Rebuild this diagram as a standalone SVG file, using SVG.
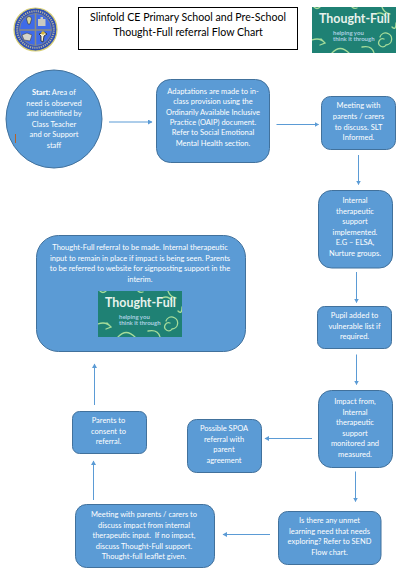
<svg xmlns="http://www.w3.org/2000/svg" xmlns:xlink="http://www.w3.org/1999/xlink" width="403" height="576" viewBox="0 0 403 576">
<style>
.n{fill:#5b9bd5;stroke:#41719c;stroke-width:1}
.t{font-family:"Lato","Open Sans",sans-serif;font-size:7.5px;fill:#fff;text-anchor:middle}
.c{stroke:#5b9bd5;stroke-width:1;fill:none;marker-end:url(#a)}
.h{font-family:"Lato","Open Sans",sans-serif;font-size:10.6px;fill:#000;text-anchor:middle}
.sw{fill:none;stroke:#a6dc9a;stroke-width:1.3;stroke-linecap:round}
.b{font-family:"Lato","Open Sans",sans-serif;font-weight:700;font-size:6px;fill:#a9cfe0}
</style>
<defs>
<marker id="a" markerWidth="5" markerHeight="5" refX="4" refY="2.5" orient="auto" markerUnits="userSpaceOnUse"><path d="M0 0L4.5 2.5L0 5z" fill="#5b9bd5"/></marker>
<symbol id="tf" viewBox="0 0 84 46" overflow="hidden">
<rect width="84" height="46" fill="#1f8174"/>
<path class="sw" d="M0 33Q8 30 13 36M9 32L13 36L8 38M20 46Q28 37 37 46M50 40Q60 38 62 46M68 30a6 6 0 1 1 6 8a4 4 0 1 1 -2 -6M70 0Q72 6 78 7M64 7Q70 4 74 10M2 0Q5 3 8 0M40 0Q42 2 45 1M80 20Q84 24 84 16"/>
<text x="7" y="16" font-family="Lato,'Open Sans',sans-serif" font-weight="700" font-size="12.4" fill="#e8f2ec">Thought-Full</text>
<text class="b" x="21" y="27.500">helping you</text>
<text class="b" x="21" y="33.500">think it through</text>
</symbol>
</defs>
<rect width="403" height="576" fill="#fff"/>
<g id="logo">
<circle cx="35.500" cy="29.500" r="21.500" fill="#2f4fb4" stroke="#d6cd72" stroke-width="1.200"/>
<circle cx="35.500" cy="29.500" r="18.300" fill="none" stroke="#aeb0a0" stroke-width="2" stroke-dasharray="1.200 1"/>
<circle cx="35.500" cy="29.500" r="16" fill="#3f6be8" stroke="#8a8a80" stroke-width=".8"/>
<path d="M35.500 13.500V45.500M19.500 30H51.500" stroke="#8c8c80" stroke-width="1.600"/>
<path d="M38 26V19h2.500v-2h2.500v2h2.500v7z" fill="#c9c9c0"/>
<path d="M31.500 19a2.500 2.500 0 1 0 -5 0l1.500 5h2z" fill="#d9d6a0" stroke="#333" stroke-width=".6"/>
<path d="M22 35l5-2 5 2-2 6-6-1z" fill="#d5d5cc" stroke="#444" stroke-width=".6"/>
<path d="M39 34l5-2 3 2-3 2-1 6-2-1v-5z" fill="#f0efe0" stroke="#222" stroke-width=".8"/>
<circle cx="43" cy="33" r="1.800" fill="#d8b838"/>
</g>
<g id="title">
<rect x="78.500" y="7.500" width="219" height="42" fill="#fff" stroke="#000" stroke-width="1"/>
<text class="h" x="188" y="21">Slinfold CE Primary School and Pre-School</text>
<text class="h" x="188" y="36">Thought-Full referral Flow Chart</text>
</g>
<g id="thought-full-banner"><use xlink:href="#tf" href="#tf" x="312" y="7" width="84" height="46"/></g>
<g id="connectors">
<path class="c" d="M109 122H152"/>
<path class="c" d="M276.500 124.500H318.500"/>
<path class="c" d="M358.500 155V184.500"/>
<path class="c" d="M356.500 272V302.500"/>
<path class="c" d="M356.500 354.500V384.500"/>
<path class="c" d="M312 438.500H265"/>
<path class="c" d="M355.500 471.500V501.500"/>
<path class="c" d="M270 534.500H223"/>
<path class="c" d="M93.500 500V461"/>
<path class="c" d="M94.500 405V364"/>
</g>
<g id="start">
<ellipse class="n" cx="54" cy="119" rx="48" ry="49"/>
<path d="M15.500 134V143" stroke="#b5622a" stroke-width="1"/>
<text class="t" x="54" y="95"><tspan font-weight="700">Start:</tspan> Area of</text>
<text class="t" x="54" y="106">need is observed</text>
<text class="t" x="54" y="116">and identified by</text>
<text class="t" x="54" y="127">Class Teacher</text>
<text class="t" x="54" y="137">and or Support</text>
<text class="t" x="54" y="148">staff</text>
</g>
<g id="adaptations">
<rect class="n" x="156.500" y="79.500" width="113" height="83" rx="14"/>
<text class="t" x="213" y="94">Adaptations are made to in-</text>
<text class="t" x="213" y="104">class provision using the</text>
<text class="t" x="213" y="115">Ordinarily Available Inclusive</text>
<text class="t" x="213" y="125">Practice (OAIP) document.</text>
<text class="t" x="213" y="135">Refer to Social Emotional</text>
<text class="t" x="213" y="146">Mental Health section.</text>
</g>
<g id="meeting-slt">
<rect class="n" x="321.500" y="96.500" width="74" height="53" rx="9"/>
<text class="t" x="358.500" y="108">Meeting with</text>
<text class="t" x="358.500" y="119">parents / carers</text>
<text class="t" x="358.500" y="129.500">to discuss. SLT</text>
<text class="t" x="358.500" y="140">Informed.</text>
</g>
<g id="internal-support">
<rect class="n" x="318.500" y="190.500" width="74" height="77.500" rx="13"/>
<text class="t" x="355" y="203">Internal</text>
<text class="t" x="355" y="214">therapeutic</text>
<text class="t" x="355" y="224">support</text>
<text class="t" x="355" y="235">implemented.</text>
<text class="t" x="355" y="245">E.G – ELSA,</text>
<text class="t" x="355" y="256">Nurture groups.</text>
</g>
<g id="vulnerable-list">
<rect class="n" x="317.500" y="306.500" width="74" height="42" rx="7"/>
<text class="t" x="354.500" y="318">Pupil added to</text>
<text class="t" x="354.500" y="329">vulnerable list if</text>
<text class="t" x="354.500" y="339">required.</text>
</g>
<g id="impact">
<rect class="n" x="318.500" y="390.500" width="74" height="77" rx="13"/>
<text class="t" x="355" y="404">Impact from,</text>
<text class="t" x="355" y="415">Internal</text>
<text class="t" x="355" y="425">therapeutic</text>
<text class="t" x="355" y="436">support</text>
<text class="t" x="355" y="446">monitored and</text>
<text class="t" x="355" y="457">measured.</text>
</g>
<g id="spoa">
<rect class="n" x="187.500" y="419.500" width="74" height="53" rx="9"/>
<text class="t" x="224" y="431">Possible SPOA</text>
<text class="t" x="224" y="442">referral with</text>
<text class="t" x="224" y="452">parent</text>
<text class="t" x="224" y="463">agreement</text>
</g>
<g id="unmet-need">
<rect class="n" x="278.500" y="511.500" width="102.500" height="53" rx="9"/>
<text class="t" x="329.500" y="523">Is there any unmet</text>
<text class="t" x="329.500" y="534">learning need that needs</text>
<text class="t" x="329.500" y="544">exploring? Refer to SEND</text>
<text class="t" x="329.500" y="555">Flow chart.</text>
</g>
<g id="meeting-impact">
<rect class="n" x="75.500" y="504.500" width="139" height="63" rx="11"/>
<text class="t" x="144" y="517">Meeting with parents / carers to</text>
<text class="t" x="144" y="528">discuss impact from internal</text>
<text class="t" x="144" y="538" xml:space="preserve">therapeutic input.  If no impact,</text>
<text class="t" x="144" y="549">discuss Thought-Full support.</text>
<text class="t" x="144" y="559">Thought-full leaflet given.</text>
</g>
<g id="consent">
<rect class="n" x="72.500" y="411.500" width="74" height="42" rx="7"/>
<text class="t" x="108.500" y="423">Parents to</text>
<text class="t" x="108.500" y="434">consent to</text>
<text class="t" x="108.500" y="444">referral.</text>
</g>
<g id="referral">
<rect class="n" x="36.500" y="235.500" width="209" height="116" rx="22"/>
<text class="t" x="140" y="250">Thought-Full referral to be made. Internal therapeutic</text>
<text class="t" x="140" y="261">input to remain in place if impact is being seen. Parents</text>
<text class="t" x="140" y="271">to be referred to website for signposting support in the</text>
<text class="t" x="140" y="282">interim.</text>
<use xlink:href="#tf" href="#tf" x="98" y="291" width="84" height="46"/>
</g>
</svg>
